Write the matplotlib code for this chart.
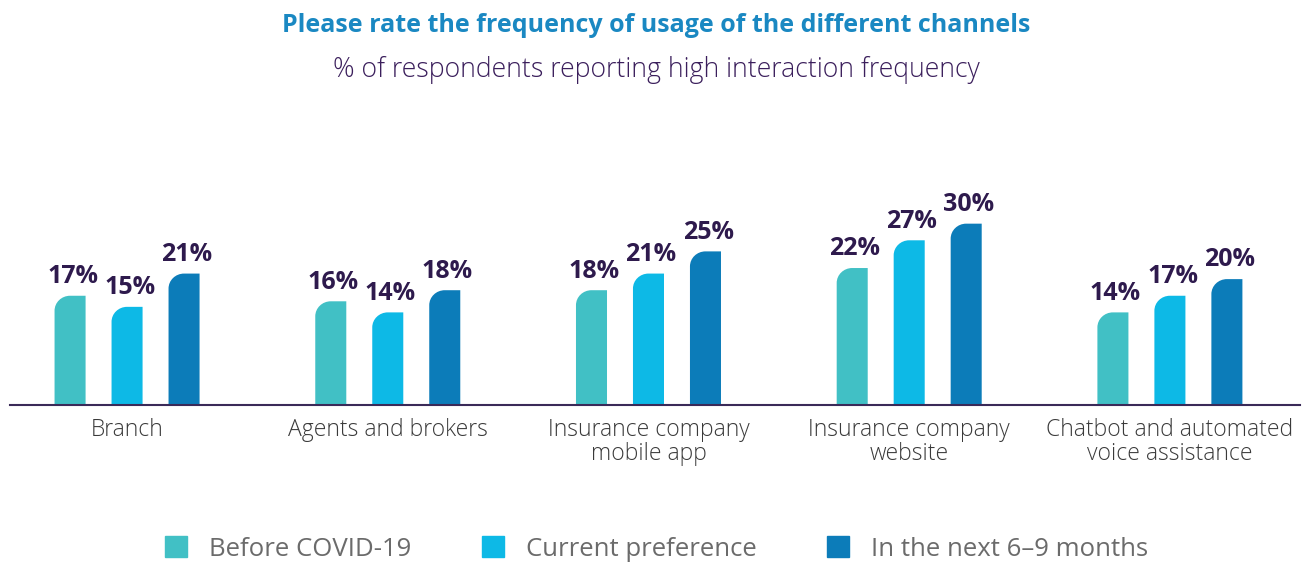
import numpy as np
import matplotlib.pyplot as plt
from matplotlib.path import Path
from matplotlib.patches import PathPatch

categories = ["Branch", "Agents and brokers", "Insurance company\nmobile app",
              "Insurance company\nwebsite", "Chatbot and automated\nvoice assistance"]
series = ["Before COVID-19", "Current preference", "In the next 6\u20139 months"]
before = [17, 16, 18, 22, 14]
current = [15, 14, 21, 27, 17]
next_months = [21, 18, 25, 30, 20]
colors = ["#41c0c5", "#0db9e6", "#0c7cb9"]

plt.rcParams["font.family"] = ["Open Sans", "DejaVu Sans"]

fig = plt.figure(figsize=(13.13, 5.63), dpi=100)
ax = fig.add_axes([10 / 1313, 158 / 563, 1290 / 1313, 305 / 563])

base = -2.7  # bars start a little below zero, like the original
x = np.arange(len(categories))
offsets = [-0.2186, 0, 0.2186]
width = 0.119

for vals, off, col, name in zip([before, current, next_months], offsets, colors, series):
    bars = ax.bar(x + off, np.array(vals) - base, width, bottom=base, color=col, label=name)
    for b, v in zip(bars, vals):
        x0, y0 = b.get_x(), b.get_y()
        w, h = b.get_width(), b.get_height()
        y1 = y0 + h
        rx, ry = w * 0.5, 2.7
        k = 0.5523
        verts = [(x0, y0), (x0, y1 - ry), (x0, y1 - ry + k * ry), (x0 + rx - k * rx, y1),
                 (x0 + rx, y1), (x0 + w, y1), (x0 + w, y0), (x0, y0)]
        codes = [Path.MOVETO, Path.LINETO, Path.CURVE4, Path.CURVE4, Path.CURVE4,
                 Path.LINETO, Path.LINETO, Path.CLOSEPOLY]
        b.set_visible(False)
        ax.add_patch(PathPatch(Path(verts, codes), facecolor=col, edgecolor="none"))
        ax.text(x0 + w / 2 + 0.01, y1 + 1.2, f"{v}%", ha="center", va="bottom",
                fontsize=18, fontweight="bold", color="#2e1a4d")

ax.set_xlim(-0.449, 4.499)
ax.set_ylim(base, 52.3)
for s in ["top", "right", "left"]:
    ax.spines[s].set_visible(False)
ax.spines["bottom"].set_color("#3a2a58")
ax.spines["bottom"].set_linewidth(1.5)
ax.set_yticks([])
ax.set_xticks(x)
ax.set_xticklabels(categories, fontsize=16.5, color="#3a3a3a", fontweight="light",
                   linespacing=1.0)
ax.tick_params(axis="x", length=0, pad=9)

fig.text(0.5, 1 - 26 / 563, "Please rate the frequency of usage of the different channels",
         ha="center", va="center", fontsize=18, fontweight="bold", color="#1a88c2")
fig.text(0.5, 1 - 70 / 563, "% of respondents reporting high interaction frequency",
         ha="center", va="center", fontsize=19.2, fontweight="light", color="#3b1f5c")

handles = [plt.Rectangle((0, 0), 1, 1, color=c) for c in colors]
fig.legend(handles, series, loc="center", bbox_to_anchor=(0.5, 1 - 549 / 563), ncol=3,
           frameon=False, fontsize=18.5, labelcolor="#6b6b6b", handlelength=0.85,
           handleheight=0.85, handletextpad=0.85, columnspacing=2.75)

fig.savefig("out.png", dpi=100)
